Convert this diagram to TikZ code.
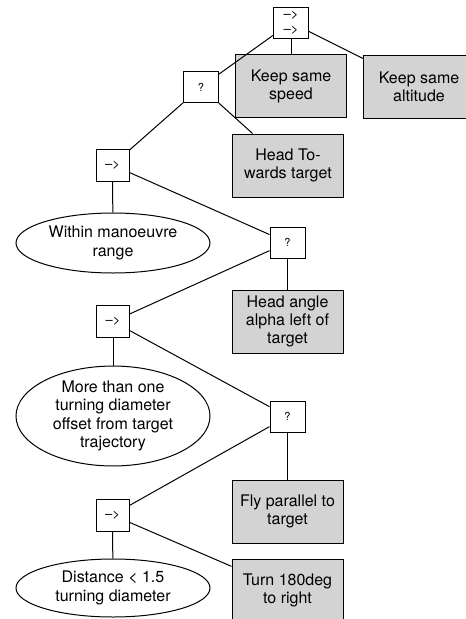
\documentclass[tikz,border=0pt]{standalone}
\usepackage{fontspec}
\setmainfont[Ligatures=TeX]{TeX Gyre Heros}
\usetikzlibrary{shapes.geometric}
\definecolor{actfill}{RGB}{211,211,211}
\tikzset{
  ctrl/.style={draw, line width=1pt, fill=white, inner sep=0pt, minimum width=35pt, minimum height=31pt, font=\fontsize{11}{15}\selectfont, align=center},
  seqbox/.style={ctrl, minimum width=33pt, minimum height=32pt, font=\fontsize{13}{15}\selectfont},
  act/.style={draw, line width=1pt, fill=actfill, inner sep=0pt, minimum width=111pt, minimum height=63pt, font=\fontsize{16}{18}\selectfont, align=center},
  cond/.style={draw, ellipse, line width=1pt, fill=white, inner sep=0pt, minimum width=194pt, font=\fontsize{16}{18.5}\selectfont, align=center},
  link/.style={line width=1pt}
}
\begin{document}
\begin{tikzpicture}[x=1pt, y=-1pt]
\clip (0,0) rectangle (466,619);
\fill[white] (0,0) rectangle (466,619);
% nodes
\node[ctrl, font=\fontsize{13}{15}\selectfont] (root) at (291,22.5) {-->\\-->};
\node[act] (speed) at (291,86) {Keep same\\speed};
\node[act] (alt) at (419,86.5) {Keep same\\altitude};
\node[ctrl] (q1) at (201,87) {?};
\node[act] (tow) at (288,165.5) {Head To-\\wards target};
\node[seqbox] (s2) at (112.5,165) {-->};
\node[cond, minimum height=60pt] (e1) at (113,243) {Within manoeuvre\\range};
\node[ctrl] (q3) at (287.5,242.5) {?};
\node[act] (ang) at (287.5,321.5) {Head angle\\alpha left of\\target};
\node[seqbox] (s4) at (113,321.5) {-->};
\node[cond, minimum height=94pt] (e2) at (113,416) {More than one\\turning diameter\\offset from target\\trajectory};
\node[ctrl] (q5) at (287.5,416.5) {?};
\node[act] (fly) at (287.5,511.5) {Fly parallel to\\target};
\node[seqbox] (s6) at (112.5,515) {-->};
\node[cond, minimum height=58pt] (e3) at (113,588) {Distance < 1.5\\turning diameter};
\node[act] (turn) at (287.5,590.5) {Turn 180deg\\to right};
% connectors
\draw[link] (root) -- (q1);
\draw[link] (root) -- (speed);
\draw[link] (root) -- (alt);
\draw[link] (q1) -- (s2);
\draw[link] (q1) -- (tow);
\draw[link] (s2) -- (e1);
\draw[link] (s2) -- (q3);
\draw[link] (q3) -- (s4);
\draw[link] (q3) -- (ang);
\draw[link] (s4) -- (e2);
\draw[link] (s4) -- (q5);
\draw[link] (q5) -- (s6);
\draw[link] (q5) -- (fly);
\draw[link] (s6) -- (e3);
\draw[link] (s6) -- (turn);
\end{tikzpicture}
\end{document}
